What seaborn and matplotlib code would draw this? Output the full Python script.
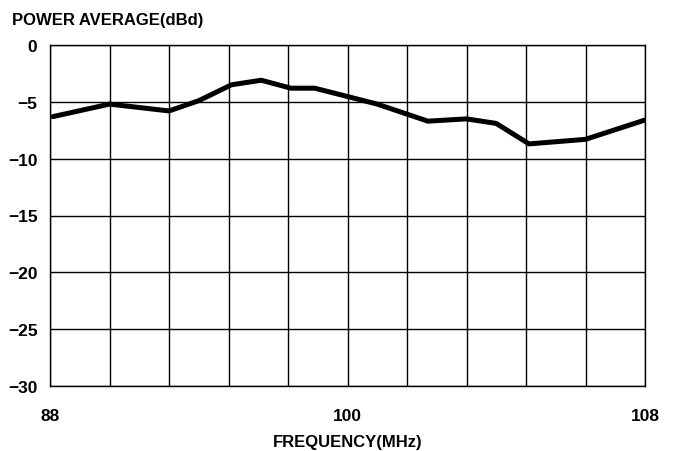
import matplotlib
matplotlib.use('Agg')
import pandas as pd
import matplotlib.pyplot as plt
import seaborn as sns

# ---- values ----------------------------------------------------------------
freq_mhz = [88.1, 90.0, 92.0, 93.0, 94.1, 95.1, 96.1, 96.9, 98.1, 99.0,
            100.7, 102.0, 103.0, 104.1, 106.0, 108.0]
power_dbd = [-6.3, -5.2, -5.8, -4.9, -3.5, -3.1, -3.8, -3.8, -4.6, -5.2,
             -6.7, -6.5, -6.9, -8.7, -8.3, -6.6]

x_grid = list(range(88, 109, 2))
x_tick_labels = ['88', '', '', '', '', '100', '', '', '', '', '108']
y_ticks = [0, -5, -10, -15, -20, -25, -30]
y_tick_labels = ['0', '\u22125', '\u221210', '\u221215', '\u221220', '\u221225', '\u221230']

df = pd.DataFrame({'freq': freq_mhz, 'power': power_dbd})

sns.set_style('white')
plt.rcParams['font.family'] = ['Liberation Sans', 'DejaVu Sans']
plt.rcParams['font.weight'] = 'bold'
for key in ['text.color', 'axes.labelcolor', 'xtick.color', 'ytick.color']:
    plt.rcParams[key] = 'black'

fig = plt.figure(figsize=(6.73, 4.52), dpi=100)
ax = fig.add_axes([50 / 673, 1 - 387 / 452, 595 / 673, 341 / 452])

sns.lineplot(data=df, x='freq', y='power', color='black', linewidth=3.6, ax=ax)

ax.set_xlim(88, 108)
ax.set_ylim(-30, 0)
ax.set_xticks(x_grid)
ax.set_xticklabels(x_tick_labels, fontsize=12.5, fontweight='bold')
ax.set_yticks(y_ticks)
ax.set_yticklabels(y_tick_labels, fontsize=12.5, fontweight='bold')
ax.tick_params(axis='both', length=0)
ax.tick_params(axis='x', pad=16)
ax.tick_params(axis='y', pad=9)
ax.grid(True, color='black', linewidth=1.0)
for side in ax.spines.values():
    side.set_visible(True)
    side.set_color('black')
    side.set_linewidth(1.0)

ax.set_xlabel('FREQUENCY(MHz)', fontsize=12, fontweight='bold', labelpad=8)
ax.set_ylabel('')
fig.text(12 / 673, 1 - 20 / 452, 'POWER AVERAGE(dBd)', fontsize=12,
         fontweight='bold', ha='left', va='center')

fig.savefig('out.png', dpi=100)
